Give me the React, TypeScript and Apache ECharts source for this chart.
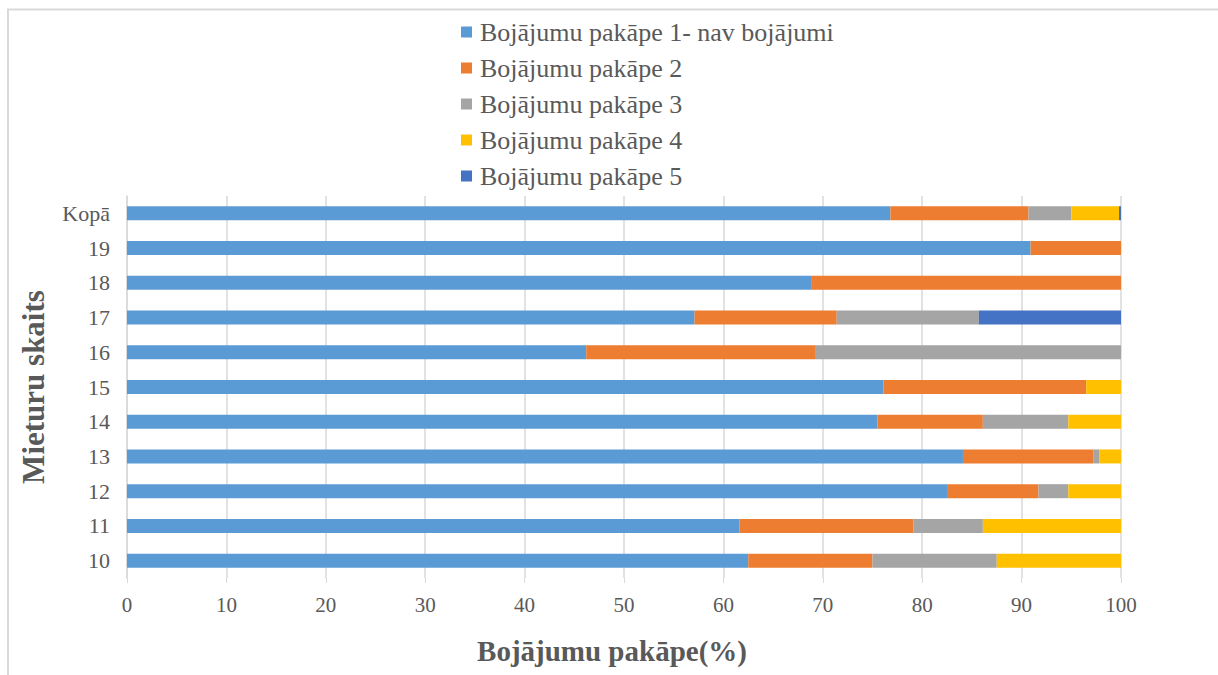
import React, { useEffect, useRef } from "react";
import * as echarts from "echarts";

const categories = ["10", "11", "12", "13", "14", "15", "16", "17", "18", "19", "Kopā"];
const seriesNames = [
  "Bojājumu pakāpe 1- nav bojājumi",
  "Bojājumu pakāpe 2",
  "Bojājumu pakāpe 3",
  "Bojājumu pakāpe 4",
  "Bojājumu pakāpe 5",
];
const stage1 = [62.5, 61.6, 82.5, 84.1, 75.5, 76.1, 46.2, 57.1, 68.9, 90.9, 76.8];
const stage2 = [12.5, 17.5, 9.2, 13.1, 10.6, 20.4, 23.1, 14.3, 31.1, 9.1, 13.9];
const stage3 = [12.5, 7.0, 3.0, 0.6, 8.6, 0, 30.7, 14.3, 0, 0, 4.3];
const stage4 = [12.5, 13.9, 5.3, 2.2, 5.3, 3.5, 0, 0, 0, 0, 4.8];
const stage5 = [0, 0, 0, 0, 0, 0, 0, 14.3, 0, 0, 0.2];
const colors = ["#5B9BD5", "#ED7D31", "#A5A5A5", "#FFC000", "#4472C4"];
const xTicks = { min: 0, max: 100, interval: 10 };

const FONT = "'Liberation Serif', 'Times New Roman', serif";
const TXT = "#595959";

export default function App() {
  const ref = useRef<HTMLDivElement>(null);
  useEffect(() => {
    if (!ref.current) return;
    const chart = echarts.init(ref.current, undefined, { renderer: "svg" });
    const data = [stage1, stage2, stage3, stage4, stage5];
    chart.setOption({
      animation: false,
      backgroundColor: "#ffffff",
      color: colors,
      graphic: [
        {
          type: "rect",
          shape: { x: 8, y: 9.5, width: 1400, height: 800 },
          style: { fill: "none", stroke: "#d9d9d9", lineWidth: 2 },
          silent: true,
        },
      ],
      legend: {
        orient: "vertical",
        left: 456,
        top: 14,
        itemWidth: 11,
        itemHeight: 11,
        itemGap: 10,
        icon: "rect",
        textStyle: { fontFamily: FONT, fontSize: 26, color: TXT, lineHeight: 26, padding: [0, 0, 0, 3] },
        data: seriesNames,
      },
      grid: { left: 127, right: 97, top: 196, height: 382, containLabel: false },
      xAxis: {
        type: "value",
        min: xTicks.min,
        max: xTicks.max,
        interval: xTicks.interval,
        name: "Bojājumu pakāpe(%)",
        nameLocation: "middle",
        nameGap: 58,
        nameTextStyle: { fontFamily: FONT, fontSize: 29, fontWeight: "bold", color: TXT, padding: [0, 24, 0, 0] },
        axisLine: { show: false },
        axisTick: { show: true, length: 5, lineStyle: { color: "#d9d9d9" } },
        axisLabel: { fontFamily: FONT, fontSize: 21, color: TXT, margin: 16 },
        splitLine: { show: true, lineStyle: { color: "#d9d9d9", width: 1.5 } },
      },
      yAxis: {
        type: "category",
        data: categories,
        name: "Mieturu skaits",
        nameLocation: "middle",
        nameGap: 78,
        nameTextStyle: { fontFamily: FONT, fontSize: 31, fontWeight: "bold", color: TXT },
        axisLine: { show: true, lineStyle: { color: "#d9d9d9", width: 1.5 } },
        axisTick: { show: false },
        axisLabel: { fontFamily: FONT, fontSize: 22, color: TXT, margin: 17 },
      },
      series: seriesNames.map((name, i) => ({
        name,
        type: "bar",
        stack: "total",
        barWidth: 14,
        itemStyle: { color: colors[i] },
        data: data[i],
      })),
    });
    return () => chart.dispose();
  }, []);
  return (
    <div
      ref={ref}
      style={{ position: "absolute", left: 0, top: 0, width: 1218, height: 675 }}
    />
  );
}
